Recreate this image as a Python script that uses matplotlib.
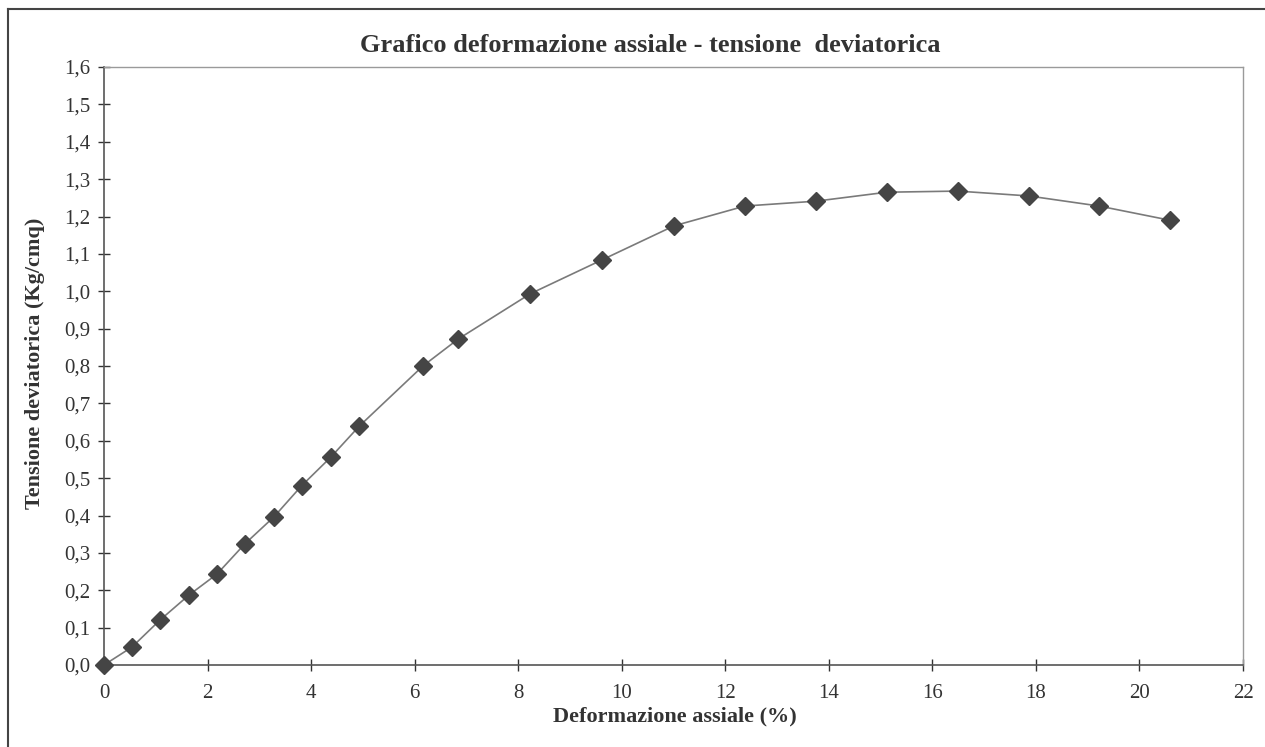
import matplotlib

matplotlib.use("Agg")
import matplotlib.pyplot as plt  # noqa: E402
from matplotlib.lines import Line2D  # noqa: E402
from matplotlib.ticker import FuncFormatter  # noqa: E402

# axial strain (%) vs deviatoric stress (Kg/cmq)
strain = [0.0, 0.54, 1.08, 1.64, 2.18, 2.72, 3.28, 3.82, 4.38, 4.93, 6.16,
          6.84, 8.23, 9.62, 11.01, 12.38, 13.75, 15.12, 16.49, 17.86, 19.22, 20.59]
stress = [0.0, 0.048, 0.12, 0.187, 0.243, 0.324, 0.396, 0.48, 0.556, 0.639, 0.80,
          0.872, 0.993, 1.084, 1.175, 1.228, 1.241, 1.265, 1.268, 1.255, 1.228, 1.19]
x_ticks = list(range(0, 23, 2))
y_ticks = [i / 10 for i in range(17)]

SERIF = ["Liberation Serif", "DejaVu Serif"]
plt.rcParams.update({"font.family": SERIF})

fig = plt.figure(figsize=(12.65, 7.47), dpi=100)
ax = fig.add_axes([104 / 1265, 1 - 665 / 747, (1243 - 104) / 1265, (665 - 67) / 747])

ax.plot(strain, stress, color="#7a7a7a", lw=1.2, marker="D", ms=9,
        mfc="#454545", mec="#454545", clip_on=False, zorder=3)

ax.set_xlim(0, 22)
ax.set_ylim(0, 1.6)
ax.set_xticks(x_ticks)
ax.set_yticks(y_ticks)
ax.yaxis.set_major_formatter(FuncFormatter(lambda v, _: f"{v:.1f}".replace(".", ",")))
ax.tick_params(direction="inout", length=8, width=1, colors="#333333",
               labelsize=15, pad=6)
ax.tick_params(axis="x", pad=10)

for side in ("left", "bottom"):
    ax.spines[side].set_color("#555555")
    ax.spines[side].set_linewidth(1.2)
for side in ("top", "right"):
    ax.spines[side].set_color("#9a9a9a")
    ax.spines[side].set_linewidth(1.0)

fig.text(650 / 1265, 1 - 45 / 747, "Grafico deformazione assiale - tensione  deviatorica",
         ha="center", va="center", fontsize=19, fontweight="bold", color="#333333")
fig.text(675 / 1265, 1 - 716 / 747, "Deformazione assiale (%)",
         ha="center", va="center", fontsize=16, fontweight="bold", color="#333333")
fig.text(35 / 1265, 1 - 363 / 747, "Tensione deviatorica (Kg/cmq)", rotation=90,
         ha="center", va="center", fontsize=16, fontweight="bold", color="#333333")

# outer frame of the scanned chart box
fig.add_artist(Line2D([8 / 1265, 1.0], [1 - 9 / 747, 1 - 9 / 747],
                      transform=fig.transFigure, color="#444444", lw=1.5))
fig.add_artist(Line2D([8 / 1265, 8 / 1265], [0.0, 1 - 9 / 747],
                      transform=fig.transFigure, color="#444444", lw=1.5))

fig.savefig("out.png", dpi=100)
